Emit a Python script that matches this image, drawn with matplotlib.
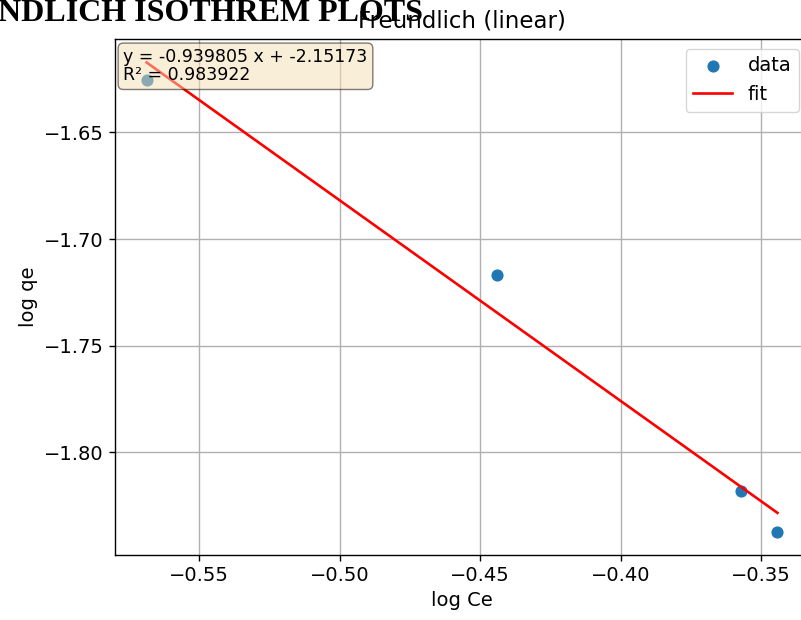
import numpy as np
import matplotlib
matplotlib.use('Agg')
import matplotlib.pyplot as plt

# data
log_ce = [-0.5688, -0.4441, -0.3571, -0.3441]
log_qe = [-1.6253, -1.7168, -1.8181, -1.8371]
slope = -0.939805
intercept = -2.15173
r2 = 0.983922

x_ticks = [-0.55, -0.50, -0.45, -0.40, -0.35]
y_ticks = [-1.65, -1.70, -1.75, -1.80]

plt.rcParams['font.size'] = 14

fig = plt.figure(figsize=(8.01, 6.2), dpi=100)
ax = fig.add_axes([0.1436, 0.1048, 0.8664, 0.8323])

x = np.array(log_ce)
xf = np.array([x.min(), x.max()])
ax.scatter(log_ce, log_qe, s=60, color='#1f77b4', label='data')
ax.plot(xf, slope * xf + intercept, color='red', lw=1.9, label='fit')

ax.set_xticks(x_ticks)
ax.set_yticks(y_ticks)
ax.grid(True, color='#b0b0b0', lw=1.0)
ax.tick_params(length=4.5, width=1.0)
for sp in ax.spines.values():
    sp.set_linewidth(1.0)

ax.set_xlabel('log Ce')
ax.set_ylabel('log qe')
ax.set_title('Freundlich (linear)', fontsize=16.5, pad=8)
ax.legend(loc='upper right')

ax.text(0.012, 0.982, f'y = {slope:g} x + {intercept:g}\nR² = {r2:g}',
        transform=ax.transAxes, va='top', ha='left', fontsize=12.5,
        linespacing=1.0,
        bbox=dict(boxstyle='round', facecolor='wheat', alpha=0.5))

fig.text(423 / 801, 1 - 21 / 620, 'FREUNDLICH ISOTHREM PLOTS', ha='right',
         va='baseline', fontsize=23, fontweight='bold', family='Liberation Serif')

fig.savefig('out.png', dpi=100)
